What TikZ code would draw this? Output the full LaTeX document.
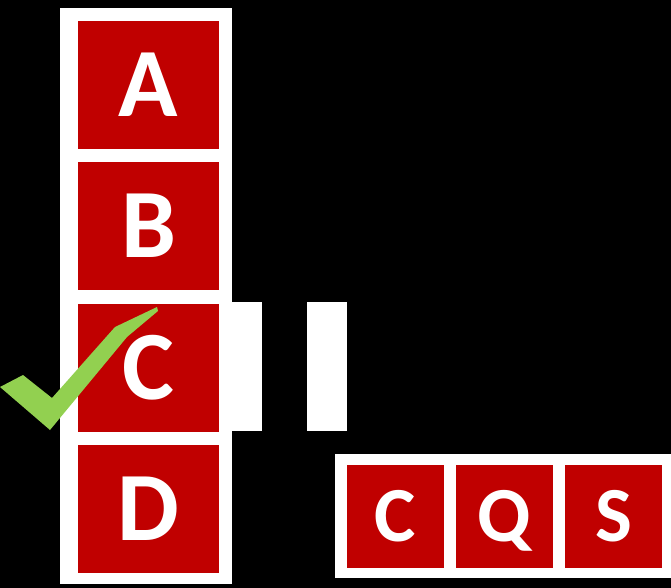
\documentclass[tikz,border=0pt]{standalone}
\usepackage{fontspec}
\setmainfont{Carlito}
\usetikzlibrary{positioning}
\definecolor{boxred}{HTML}{C00000}
\definecolor{tickgreen}{HTML}{92D050}

\begin{document}
\begin{tikzpicture}[
      x=1pt, y=-1pt,
      frame/.style={fill=white, inner sep=0pt},
      letter/.style={fill=boxred, text=white, inner sep=0pt,
                     font=\bfseries\fontsize{98}{98}\selectfont,
                     text height=63pt, text depth=0pt,
                     minimum width=141pt, minimum height=128pt, node distance=13pt},
      small/.style={letter, font=\bfseries\fontsize{78}{78}\selectfont,
                    text height=50pt,
                    minimum width=97pt, minimum height=103pt, node distance=12pt},
    ]
    % black page
    \fill[black] (0,0) rectangle (671,588);
    \useasboundingbox (0,0) rectangle (671,588);

    % white frames and bars
    \node[frame, minimum width=172pt, minimum height=576pt] (colframe) at (146,296) {};
    \node[frame, minimum width=30pt, minimum height=129pt] (barl) at (247,366.5) {};
    \node[frame, minimum width=40pt, minimum height=129pt] (barr) at (327,366.5) {};
    \node[frame, minimum width=336pt, minimum height=124pt] (rowframe) at (503,516) {};

    % column of letters
    \node[letter] (a) at (148.5,85) {A};
    \node[letter, below=of a] (b) {B};
    \node[letter, below=of b] (c) {C};
    \node[letter, below=of c] (d) {D};

    % row of letters
    \node[small] (rc) at (395,516.5) {C};
    \node[small, right=of rc] (rq) {Q};
    \node[small, right=of rq] (rs) {S};

    % tick over C
    \fill[tickgreen] (0,387) -- (23,375) -- (52,398) -- (115,327) -- (157,307)
      -- (158,311) -- (127,337) -- (50,430) -- cycle;
  \end{tikzpicture}
\end{document}
